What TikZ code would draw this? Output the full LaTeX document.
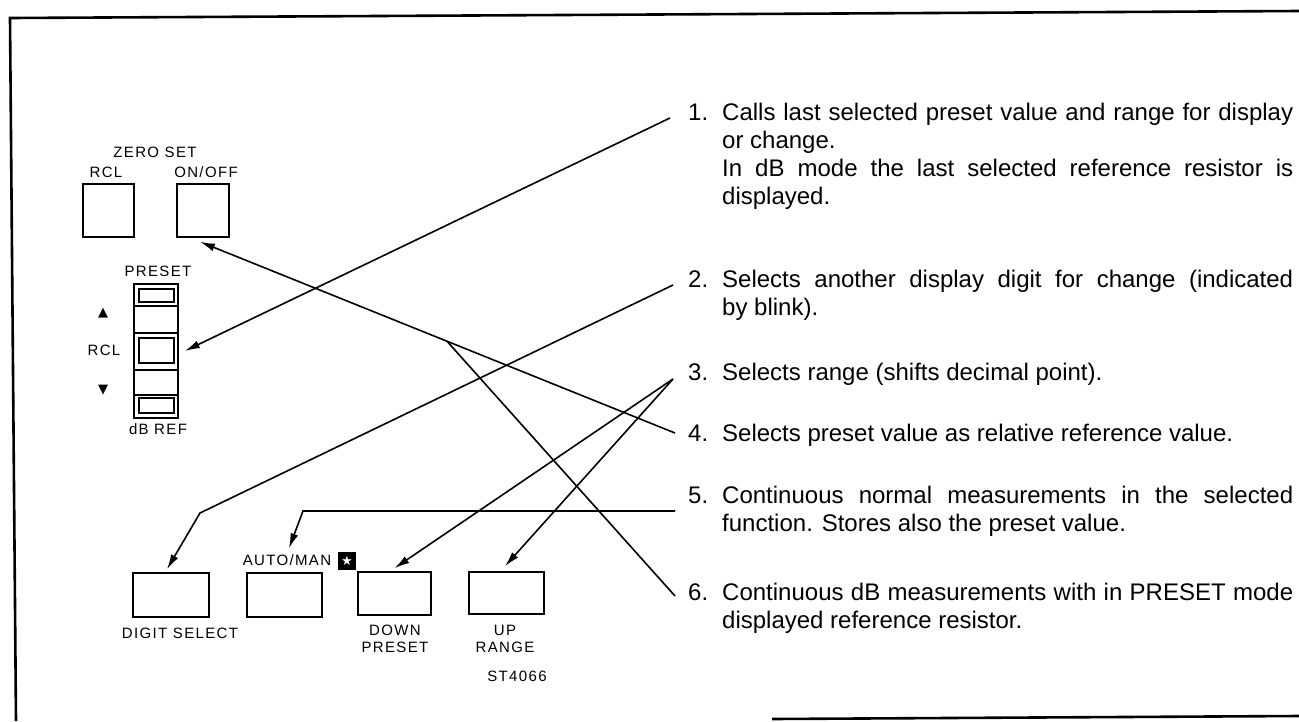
\documentclass[tikz,border=0pt]{standalone}
\usepackage{fontspec}
\setmainfont{Liberation Sans}
\newfontfamily\panelfont[LetterSpace=9]{Liberation Sans}
\newfontfamily\symfont{DejaVu Sans}
\usetikzlibrary{arrows.meta,calc,positioning}

\tikzset{
  key/.style={draw, line width=1.6pt, inner sep=0pt},
  lbl/.style={inner sep=0pt, align=center, font=\panelfont\fontsize{15}{17}\selectfont},
  sym/.style={inner sep=0pt, font=\symfont\fontsize{13}{13}\selectfont},
  num/.style={inner sep=0pt, anchor=north west, font=\fontsize{24}{28}\selectfont},
  txt/.style={inner sep=0pt, anchor=north west, text width=571pt, align=justify,
    font=\fontsize{24}{28}\selectfont},
  lead/.style={line width=1.6pt},
  arr/.style={line width=1.6pt, -{Latex[length=15pt,width=8pt]}},
}

\begin{document}
\begin{tikzpicture}[x=1pt,y=-1pt]
\useasboundingbox (0,0) rectangle (1299,721);

% frame
\draw[line width=2.6pt] (16,721) -- (10,18) -- (1299,11);
\draw[line width=2.6pt] (772,719) -- (1299,716);

% zero set
\node[lbl] (Z0) at (155,152) {ZERO SET};
\node[lbl] (Z1) at (106,172) {RCL};
\node[lbl] (Z2) at (206,172) {ON/OFF};
\node[key, minimum width=51pt, minimum height=53pt] (K1) at (108.5,210.5) {};
\node[key, minimum width=52pt, minimum height=53pt] (K2) at (203,210.5) {};

% preset column
\node[lbl] (P0) at (158,271) {PRESET};
\node[key, minimum width=44pt, minimum height=134pt] (C0) at (156,351) {};
\foreach \y in {306,333,370,395}
  \draw[line width=1.6pt] (C0.west |- 0,\y) -- (C0.east |- 0,\y);
\node[key, minimum width=35pt, minimum height=13pt] (C1) at (156.5,295.5) {};
\node[key, minimum width=35pt, minimum height=25pt] (C2) at (156.5,350.5) {};
\node[key, minimum width=35pt, minimum height=15pt] (C3) at (156.5,405.5) {};
\node[sym] (UP) at (103,313) {▲};
\node[lbl] (R0) at (104,350) {RCL};
\node[sym] (DN) at (103,390) {▼};
\node[lbl] (P1) at (158,429) {dB REF};

% bottom row
\node[key, minimum width=76pt, minimum height=44pt] (B1) at (171,595) {};
\node[key, minimum width=75pt, minimum height=44pt] (B2) at (284.5,595) {};
\node[key, minimum width=73pt, minimum height=43pt] (B3) at (394.5,593.5) {};
\node[key, minimum width=75pt, minimum height=42pt] (B4) at (506.5,593) {};
\node[lbl] (L1) at (180,633) {DIGIT SELECT};
\node[lbl] (L2) at (287,560) {AUTO/MAN};
\node[sym, fill=black, text=white, minimum size=18pt, font=\symfont\fontsize{13}{13}\selectfont] (S0) at (347,561) {★};
\node[lbl] (L3) at (395,639) {DOWN\\PRESET};
\node[lbl] (L4) at (505,639) {UP\\RANGE};
\node[lbl] (L5) at (517,676) {ST4066};

% notes
\node[num] (N1) at (688,101) {\strut 1.};
\node[txt] (T1) at (722,101) {\strut Calls last selected preset value and range for display\linebreak or change.\par\noindent
In dB mode the last selected reference resistor is\linebreak displayed.};
\node[num] (N2) at (688,268) {\strut 2.};
\node[txt] (T2) at (722,268) {\strut Selects another display digit for change (indicated\linebreak by blink).};
\node[num] (N3) at (688,361) {\strut 3.};
\node[txt] (T3) at (722,361) {\strut Selects range (shifts decimal point).};
\node[num] (N4) at (688,422) {\strut 4.};
\node[txt] (T4) at (722,422) {\strut Selects preset value as relative reference value.};
\node[num] (N5) at (688,484) {\strut 5.};
\node[txt] (T5) at (722,484) {\strut Continuous normal measurements in the selected\linebreak function. Stores also the preset value.};
\node[num] (N6) at (688,581) {\strut 6.};
\node[txt] (T6) at (722,581) {\strut Continuous dB measurements with in PRESET mode\linebreak displayed reference resistor.};

% leader ends and bends
\coordinate (E1) at (670,118);
\coordinate (E2) at (673,285);
\coordinate (E3) at (673,379);
\coordinate (E4) at (675,433);
\coordinate (E5) at (675,511);
\coordinate (E6) at (675,596);
\coordinate (M2) at (200,513);
\coordinate (M5) at (303,511);
\coordinate (H4) at ([xshift=-3pt,yshift=-4pt]K2.south);
\coordinate (J) at ($(E4)!0.48!(H4)$);

\draw[arr] (E1) -- ([xshift=6pt]C0.east);
\draw[arr] (E2) -- (M2) -- ([xshift=-4pt,yshift=3pt]B1.north);
\draw[arr] (E3) -- ([yshift=3pt]B3.north);
\draw[arr] (E3) -- ([xshift=-1.5pt,yshift=5pt]B4.north);
\draw[arr] (E4) -- (H4);
\draw[arr] (E5) -- (M5) -- ([xshift=2pt,yshift=6pt]L2.north);
\draw[lead] (E6) -- (J);
\end{tikzpicture}
\end{document}
